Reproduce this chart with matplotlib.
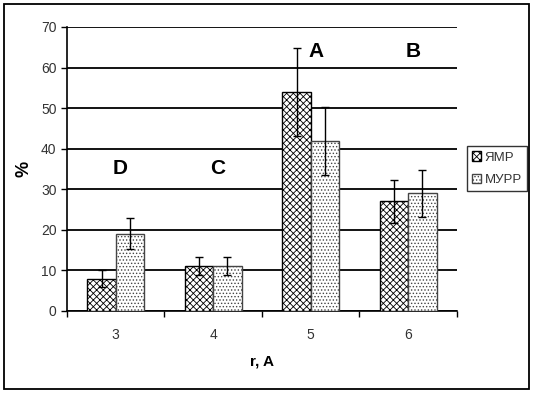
import matplotlib.pyplot as plt
import numpy as np
from matplotlib.patches import Rectangle

plt.rcParams['font.family'] = ['Liberation Sans', 'DejaVu Sans']
plt.rcParams['hatch.linewidth'] = 0.6

# data
categories = ['3', '4', '5', '6']
nmr = [8, 11, 54, 27]
nmr_err = [2.0, 2.2, 10.8, 5.2]
murr = [19, 11, 42, 29]
murr_err = [3.8, 2.2, 8.4, 5.8]
labels = ['D', 'C', 'A', 'B']
label_y = [35, 35, 64, 64]

fig = plt.figure(figsize=(5.33, 3.93), dpi=100)
ax = fig.add_axes([0.1257, 0.2087, 0.7317, 0.7226])

x = np.arange(len(categories))
w = 0.29
ax.bar(x - w/2, nmr, w, color='white', edgecolor='black', hatch='xxxxx', linewidth=1.0, label='ЯМР', zorder=3)
ax.bar(x + w/2, murr, w, color='white', edgecolor='#444444', hatch='.....', linewidth=1.0, label='МУРР', zorder=3)
ax.errorbar(x - w/2, nmr, yerr=nmr_err, fmt='none', ecolor='black', elinewidth=1.0, capsize=3, zorder=4)
ax.errorbar(x + w/2, murr, yerr=murr_err, fmt='none', ecolor='black', elinewidth=1.0, capsize=3, zorder=4)

for xi, lab, ly in zip(x, labels, label_y):
    ax.text(xi + 0.05, ly, lab, ha='center', va='center', fontsize=15, fontweight='bold')

ax.set_xlim(-0.5, len(categories) - 0.5)
ax.set_ylim(0, 70)
ax.set_yticks(range(0, 71, 10))
ax.set_xticks(x)
ax.set_xticklabels(categories)
ax.set_xticks(np.arange(-0.5, len(categories)), minor=True)
ax.tick_params(axis='x', which='major', length=0, pad=12, labelsize=10, labelcolor='#333333')
ax.tick_params(axis='x', which='minor', length=4, width=1)
ax.tick_params(axis='y', length=4, width=1, labelsize=10, labelcolor='#333333')
ax.yaxis.grid(True, color='black', linewidth=1.3, zorder=0)
ax.set_axisbelow(True)
for s in ['top', 'right']:
    ax.spines[s].set_visible(False)
ax.spines['left'].set_linewidth(1.2)
ax.spines['bottom'].set_linewidth(1.2)

ax.set_ylabel('%', fontsize=13, fontweight='bold', labelpad=6)
ax.set_xlabel('r, A', fontsize=11, fontweight='bold', labelpad=9)

leg = ax.legend(loc='center left', bbox_to_anchor=(0.876, 0.571), bbox_transform=fig.transFigure,
                fontsize=9.5, frameon=True, fancybox=False, edgecolor='black',
                handlelength=0.7, handleheight=0.7, handletextpad=0.25,
                borderpad=0.4, labelspacing=0.75, borderaxespad=0)
leg.get_frame().set_linewidth(1.0)
for t in leg.get_texts():
    t.set_color('#333333')

fig.patches.append(Rectangle((4/533, 4/393), 525/533, 385/393, transform=fig.transFigure,
                             fill=False, edgecolor='black', linewidth=1.3))

fig.savefig('out.png', dpi=100)
